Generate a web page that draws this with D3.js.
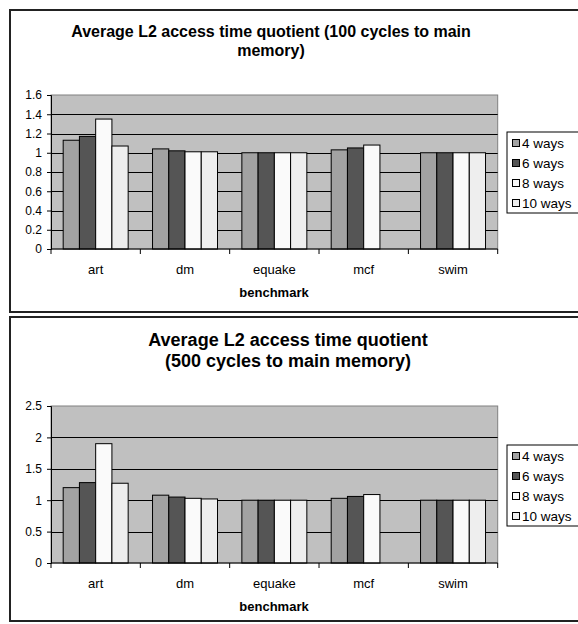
<!doctype html>
<html lang="en">
<head>
<meta charset="UTF-8">
<title>Average L2 access time quotient</title>
<script src="https://d3js.org/d3.v7.min.js"></script>
<style>
    body { margin: 0; background: #fff; }
    svg { display: block; font-family: Arial, "Liberation Sans", sans-serif; }
</style>
</head>
<body>
<div id="chart"></div>
<script>

    // benchmarks and series names
    const benchmarks = ["art", "dm", "equake", "mcf", "swim"];
    const seriesNames = ["4 ways", "6 ways", "8 ways", "10 ways"];
    const seriesColors = ["#a2a2a2", "#555555", "#fafafa", "#eeeeee"];

    // 100 cycles to main memory (one array per series, null = no bar)
    const ways4_100 = [1.13, 1.04, 1.00, 1.03, 1.00];
    const ways6_100 = [1.17, 1.02, 1.00, 1.05, 1.00];
    const ways8_100 = [1.35, 1.01, 1.00, 1.08, 1.00];
    const ways10_100 = [1.07, 1.01, 1.00, null, 1.00];
    const ticks_100 = [0, 0.2, 0.4, 0.6, 0.8, 1, 1.2, 1.4, 1.6];

    // 500 cycles to main memory
    const ways4_500 = [1.20, 1.08, 1.00, 1.03, 1.00];
    const ways6_500 = [1.28, 1.05, 1.00, 1.06, 1.00];
    const ways8_500 = [1.90, 1.03, 1.00, 1.09, 1.00];
    const ways10_500 = [1.27, 1.02, 1.00, null, 1.00];
    const ticks_500 = [0, 0.5, 1, 1.5, 2, 2.5];

    let svg = d3.select("#chart").append("svg")
        .attr("width", 578)
        .attr("height", 624);

    //draw one chart
    function drawChart(opts) {
        let g = svg.append("g").attr("transform", "translate(0," + opts.top + ")");

        //frame
        g.append("rect")
            .attr("x", 10).attr("y", 0)
            .attr("width", 620).attr("height", opts.frameH)
            .attr("fill", "#fff")
            .attr("stroke", "#222")
            .attr("stroke-width", 2);

        //title
        g.append("text")
            .attr("text-anchor", "middle")
            .style("font-size", opts.titleSize)
            .style("font-weight", "bold")
            .selectAll("tspan")
            .data(opts.title)
            .enter().append("tspan")
            .attr("x", opts.titleX)
            .attr("y", function (d, i) { return opts.titleY + i * opts.titleGap; })
            .text(function (d) { return d; });

        let left = 51, right = 497.7;
        let y = d3.scaleLinear()
            .domain([0, d3.max(opts.ticks)])
            .range([opts.plotBottom, opts.plotTop]);

        let x0 = d3.scaleBand()
            .domain(benchmarks)
            .range([left, right]);

        let x1 = d3.scaleBand()
            .domain(seriesNames)
            .range([0, x0.bandwidth()])
            .paddingOuter(0.75);

        //plot background
        g.append("rect")
            .attr("x", left).attr("y", opts.plotTop)
            .attr("width", right - left).attr("height", opts.plotBottom - opts.plotTop)
            .attr("fill", "#c0c0c0")
            .attr("stroke", "#808080");

        //grid lines
        g.selectAll(".grid")
            .data(opts.ticks.slice(1, -1))
            .enter().append("line")
            .attr("x1", left).attr("x2", right)
            .attr("y1", function (d) { return Math.round(y(d)) + 0.5; })
            .attr("y2", function (d) { return Math.round(y(d)) + 0.5; })
            .attr("stroke", "#000");

        //bars
        let groups = g.selectAll(".bench")
            .data(benchmarks)
            .enter().append("g")
            .attr("transform", function (d) { return "translate(" + x0(d) + ",0)"; });

        groups.selectAll("rect")
            .data(function (d, i) {
                return opts.series.map(function (s, j) {
                    return {name: seriesNames[j], value: s[i], color: seriesColors[j]};
                }).filter(function (e) { return e.value !== null; });
            })
            .enter().append("rect")
            .attr("x", function (d) { return x1(d.name); })
            .attr("y", function (d) { return y(d.value); })
            .attr("width", x1.bandwidth())
            .attr("height", function (d) { return opts.plotBottom - y(d.value); })
            .attr("fill", function (d) { return d.color; })
            .attr("stroke", "#000")
            .attr("stroke-width", 1);

        //y axis
        let yAxis = d3.axisLeft(y)
            .tickValues(opts.ticks)
            .tickSize(4)
            .tickPadding(5)
            .tickFormat(function (d) { return d3.format("")(d); });
        let ya = g.append("g")
            .attr("transform", "translate(" + left + ",0)")
            .call(yAxis);
        ya.select(".domain").attr("stroke", "#000");
        ya.selectAll("text").style("font-size", "12px").attr("fill", "#000");

        //x axis
        let xa = g.append("g").attr("transform", "translate(0," + opts.plotBottom + ")");
        xa.append("line")
            .attr("x1", left).attr("x2", right)
            .attr("stroke", "#000");
        xa.selectAll(".tk")
            .data(benchmarks.concat(["end"]))
            .enter().append("line")
            .attr("x1", function (d, i) { return left + i * x0.step(); })
            .attr("x2", function (d, i) { return left + i * x0.step(); })
            .attr("y1", 0).attr("y2", 5)
            .attr("stroke", "#000");
        xa.selectAll(".lbl")
            .data(benchmarks)
            .enter().append("text")
            .attr("x", function (d) { return x0(d) + x0.bandwidth() / 2; })
            .attr("y", 25)
            .attr("text-anchor", "middle")
            .style("font-size", "13px")
            .text(function (d) { return d; });
        xa.append("text")
            .attr("x", 274)
            .attr("y", 48)
            .attr("text-anchor", "middle")
            .style("font-size", "13px")
            .style("font-weight", "bold")
            .text("benchmark");

        //legend
        let lg = g.append("g").attr("transform", "translate(507," + opts.legendTop + ")");
        lg.append("rect")
            .attr("x", 0).attr("y", 0)
            .attr("width", 72).attr("height", 81)
            .attr("fill", "#fff")
            .attr("stroke", "#000");
        let items = lg.selectAll(".item")
            .data(seriesNames)
            .enter().append("g")
            .attr("transform", function (d, i) { return "translate(0," + (11 + i * 20) + ")"; });
        items.append("rect")
            .attr("x", 5.5).attr("y", -3.5)
            .attr("width", 7).attr("height", 7)
            .attr("fill", function (d, i) { return seriesColors[i]; })
            .attr("stroke", "#000");
        items.append("text")
            .attr("x", 15)
            .attr("y", 5)
            .style("font-size", "13.5px")
            .text(function (d) { return d; });
    }

    drawChart({
        top: 10, frameH: 302,
        title: ["Average L2 access time quotient (100 cycles to main", "memory)"],
        titleX: 271, titleY: 27, titleGap: 19, titleSize: "16px",
        plotTop: 85, plotBottom: 239,
        ticks: ticks_100,
        series: [ways4_100, ways6_100, ways8_100, ways10_100],
        legendTop: 122
    });

    drawChart({
        top: 317, frameH: 304,
        title: ["Average L2 access time quotient", "(500 cycles to main memory)"],
        titleX: 288, titleY: 29, titleGap: 21, titleSize: "18px",
        plotTop: 89, plotBottom: 246,
        ticks: ticks_500,
        series: [ways4_500, ways6_500, ways8_500, ways10_500],
        legendTop: 128
    });

</script>
</body>
</html>
